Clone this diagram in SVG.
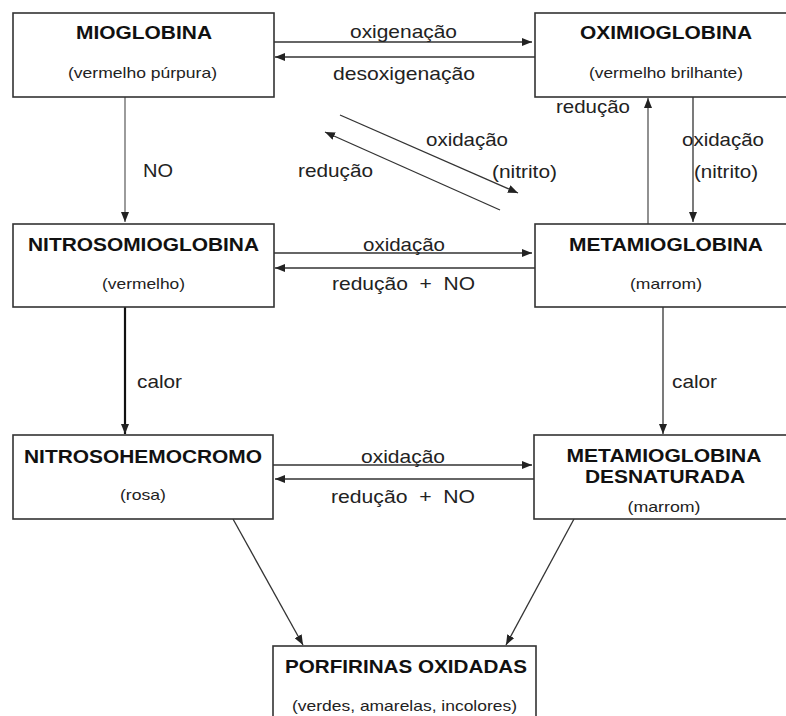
<svg xmlns="http://www.w3.org/2000/svg" width="786" height="716" viewBox="0 0 786 716">
<defs>
<marker id="ah" markerUnits="userSpaceOnUse" markerWidth="10" markerHeight="8" refX="10" refY="4" orient="auto">
<path d="M0,0 L10,4 L0,8 z" fill="#222"/>
</marker>
<style>
.box{fill:#fff;stroke:#333;stroke-width:1.6}
.t{font-family:"Liberation Sans",Arial,sans-serif;font-weight:bold;font-size:18px;fill:#111;text-anchor:middle}
.s{font-family:"Liberation Sans",Arial,sans-serif;font-size:14.5px;fill:#222;text-anchor:middle}
.l{font-family:"Liberation Sans",Arial,sans-serif;font-size:18.5px;fill:#222}
.c{fill:none;stroke:#333;stroke-width:1.3;marker-end:url(#ah)}
</style>
</defs>
<rect width="786" height="716" fill="#fff"/>
<g id="connectors">
<line class="c" x1="274" y1="42" x2="532" y2="42"/>
<line class="c" x1="535" y1="57" x2="275" y2="57"/>
<line class="c" x1="125" y1="97" x2="125" y2="222" style="stroke:#666"/>
<line class="c" x1="340" y1="115" x2="518" y2="193"/>
<line class="c" x1="500" y1="210" x2="325" y2="132"/>
<line class="c" x1="648" y1="224" x2="648" y2="98" style="stroke:#555"/>
<line class="c" x1="693" y1="97" x2="693" y2="222"/>
<line class="c" x1="274" y1="253" x2="532" y2="253"/>
<line class="c" x1="535" y1="268" x2="275" y2="268"/>
<line class="c" x1="125" y1="307" x2="125" y2="434" style="stroke:#111;stroke-width:2.2"/>
<line class="c" x1="663" y1="307" x2="663" y2="434"/>
<line class="c" x1="273" y1="465" x2="532" y2="465"/>
<line class="c" x1="534" y1="479" x2="275" y2="479"/>
<line class="c" x1="233" y1="519" x2="303" y2="645"/>
<line class="c" x1="574" y1="519" x2="506" y2="645"/>
<text class="l" x="350" y="38" textLength="107" lengthAdjust="spacingAndGlyphs">oxigenação</text>
<text class="l" x="333" y="80" textLength="142" lengthAdjust="spacingAndGlyphs">desoxigenação</text>
<text class="l" x="143" y="177" textLength="30" lengthAdjust="spacingAndGlyphs">NO</text>
<text class="l" x="298" y="177" textLength="75" lengthAdjust="spacingAndGlyphs">redução</text>
<text class="l" x="426" y="146" textLength="82" lengthAdjust="spacingAndGlyphs">oxidação</text>
<text class="l" x="492" y="178" textLength="65" lengthAdjust="spacingAndGlyphs">(nitrito)</text>
<text class="l" x="556" y="113" textLength="74" lengthAdjust="spacingAndGlyphs">redução</text>
<text class="l" x="682" y="146" textLength="82" lengthAdjust="spacingAndGlyphs">oxidação</text>
<text class="l" x="694" y="178" textLength="64" lengthAdjust="spacingAndGlyphs">(nitrito)</text>
<text class="l" x="363" y="251" textLength="82" lengthAdjust="spacingAndGlyphs">oxidação</text>
<text class="l" x="332" y="290" textLength="143" lengthAdjust="spacingAndGlyphs" xml:space="preserve">redução  +  NO</text>
<text class="l" x="137" y="388" textLength="45" lengthAdjust="spacingAndGlyphs">calor</text>
<text class="l" x="672" y="388" textLength="45" lengthAdjust="spacingAndGlyphs">calor</text>
<text class="l" x="361" y="463" textLength="84" lengthAdjust="spacingAndGlyphs">oxidação</text>
<text class="l" x="331" y="503" textLength="144" lengthAdjust="spacingAndGlyphs" xml:space="preserve">redução  +  NO</text>
</g>
<g id="mioglobina">
<rect class="box" x="13" y="13" width="261" height="84"/>
<text class="t" x="144" y="39" textLength="136" lengthAdjust="spacingAndGlyphs">MIOGLOBINA</text>
<text class="s" x="142.5" y="78" textLength="149" lengthAdjust="spacingAndGlyphs">(vermelho púrpura)</text>
</g>
<g id="oximioglobina">
<rect class="box" x="535" y="13" width="265" height="84"/>
<text class="t" x="666" y="39" textLength="172" lengthAdjust="spacingAndGlyphs">OXIMIOGLOBINA</text>
<text class="s" x="666" y="78" textLength="154" lengthAdjust="spacingAndGlyphs">(vermelho brilhante)</text>
</g>
<g id="nitrosomioglobina">
<rect class="box" x="13" y="224" width="261" height="83"/>
<text class="t" x="143.5" y="251" textLength="231" lengthAdjust="spacingAndGlyphs">NITROSOMIOGLOBINA</text>
<text class="s" x="143.5" y="289" textLength="83" lengthAdjust="spacingAndGlyphs">(vermelho)</text>
</g>
<g id="metamioglobina">
<rect class="box" x="535" y="224" width="265" height="83"/>
<text class="t" x="666" y="251" textLength="194" lengthAdjust="spacingAndGlyphs">METAMIOGLOBINA</text>
<text class="s" x="666" y="289" textLength="72" lengthAdjust="spacingAndGlyphs">(marrom)</text>
</g>
<g id="nitrosohemocromo">
<rect class="box" x="13" y="435" width="260" height="84"/>
<text class="t" x="143" y="463" textLength="238" lengthAdjust="spacingAndGlyphs">NITROSOHEMOCROMO</text>
<text class="s" x="143" y="500" textLength="46" lengthAdjust="spacingAndGlyphs">(rosa)</text>
</g>
<g id="metamioglobina-desnaturada">
<rect class="box" x="534" y="435" width="266" height="84"/>
<text class="t" x="664" y="462" textLength="195" lengthAdjust="spacingAndGlyphs">METAMIOGLOBINA</text>
<text class="t" x="665" y="483" textLength="160" lengthAdjust="spacingAndGlyphs">DESNATURADA</text>
<text class="s" x="664" y="512" textLength="73" lengthAdjust="spacingAndGlyphs">(marrom)</text>
</g>
<g id="porfirinas-oxidadas">
<rect class="box" x="273" y="646" width="263" height="90"/>
<text class="t" x="406" y="673" textLength="242" lengthAdjust="spacingAndGlyphs">PORFIRINAS OXIDADAS</text>
<text class="s" x="404.5" y="711" textLength="225" lengthAdjust="spacingAndGlyphs">(verdes, amarelas, incolores)</text>
</g>
</svg>
